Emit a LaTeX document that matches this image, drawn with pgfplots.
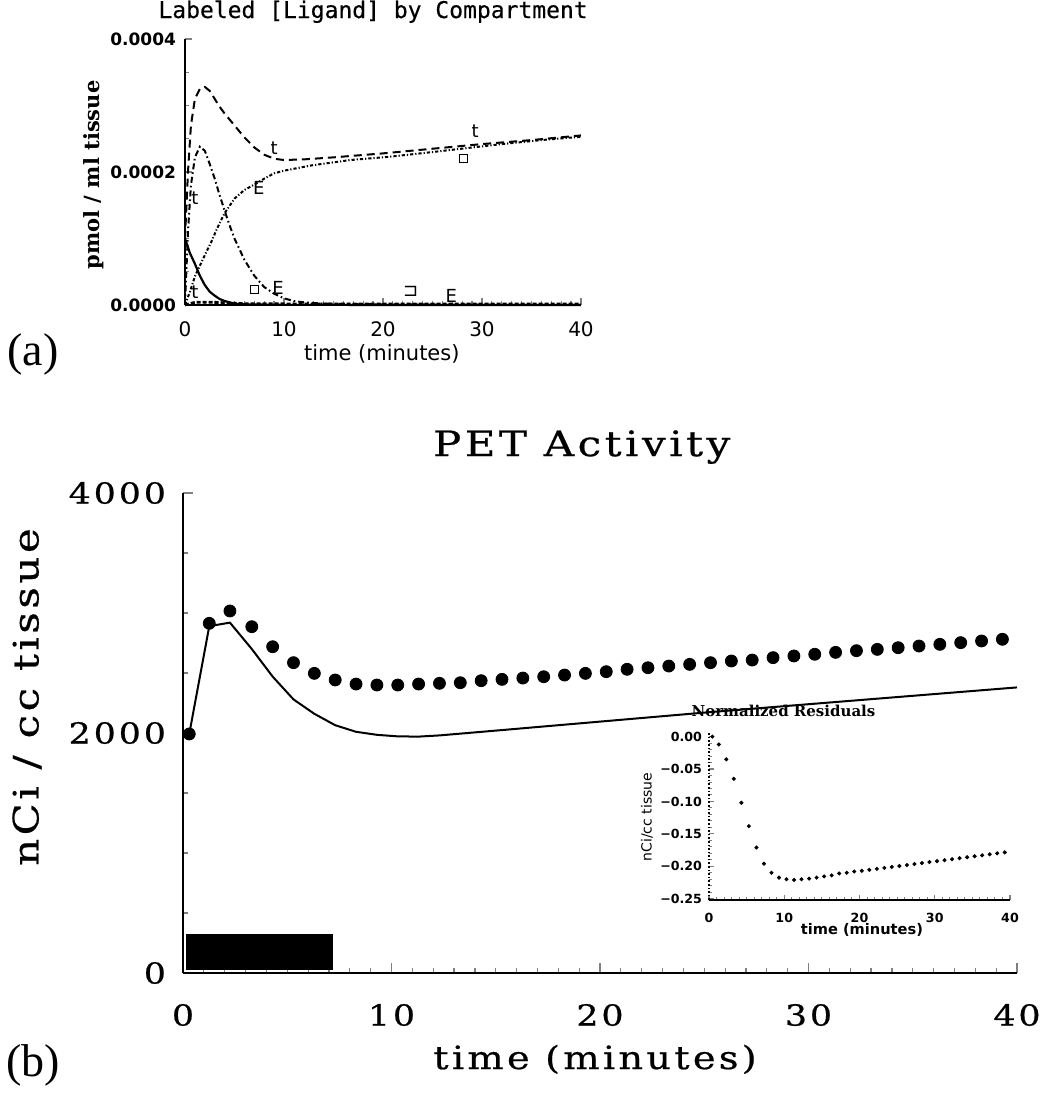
\documentclass[border=0pt]{standalone}
\usepackage{fontspec}
\usepackage{pgfplots}
\pgfplotsset{compat=1.18}
\setmainfont{DejaVu Serif}
\newfontfamily\hser[FakeStretch=1.2,LetterSpace=10,FakeBold=0.6]{DejaVu Serif}
\newfontfamily\hsans{DejaVu Sans}
\newfontfamily\hmono[FakeBold=0.4]{DejaVu Sans Mono}
\newfontfamily\tnr{Liberation Serif}
\newcommand\fs[1]{\fontsize{#1bp}{#1bp}\selectfont}

% PET activity: measured frames and model curve
\pgfplotstableread{
t    v
0.3  1992
1.26 2914
2.25 3017
3.3  2886
4.3  2719
5.3  2586
6.3  2497
7.3  2442
8.3  2408
9.3  2400
10.3 2400
11.3 2408
12.3 2414
13.3 2419
14.3 2436
15.3 2447
16.3 2458
17.3 2469
18.3 2483
19.3 2497
20.3 2511
21.3 2531
22.3 2544
23.3 2558
24.3 2572
25.3 2586
26.3 2600
27.3 2608
28.3 2628
29.3 2642
30.3 2656
31.3 2672
32.3 2686
33.3 2697
34.3 2711
35.3 2725
36.3 2739
37.3 2753
38.3 2767
39.3 2781
}\petdata

\pgfplotstableread{
t    v
0.3  1992
1.26 2890
2.25 2920
3.3  2700
4.3  2470
5.3  2280
6.3  2160
7.3  2065
8.3  2010
9.3  1985
10.3 1972
11.3 1970
12.3 1980
15   2020
20   2095
25   2170
30   2240
35   2310
40   2380
}\petmodel

\pgfplotstableread{
t    r
0.45 0.000
1.3  -0.012
2.3  -0.035
3.3  -0.065
4.3  -0.102
5.3  -0.138
6.3  -0.171
7.3  -0.196
8.3  -0.210
9.3  -0.2175
10.3 -0.220
11.3 -0.221
12.3 -0.220
13.3 -0.219
14.3 -0.2175
15.3 -0.2155
16.3 -0.214
17.3 -0.211
18.3 -0.210
19.3 -0.208
20.3 -0.207
21.3 -0.2055
22.3 -0.204
23.3 -0.2025
24.3 -0.201
25.3 -0.1995
26.3 -0.198
27.3 -0.1965
28.3 -0.195
29.3 -0.1935
30.3 -0.192
31.3 -0.1905
32.3 -0.189
33.3 -0.1875
34.3 -0.186
35.3 -0.1845
36.3 -0.183
37.3 -0.1815
38.3 -0.180
39.3 -0.1785
}\resid

\begin{document}
\begin{tikzpicture}
\path[use as bounding box] (0,0) rectangle (520.5bp,-548bp);

% ---------------- (a) compartments ----------------
\begin{axis}[
  at={(92.5bp,-152.5bp)}, anchor=south west,
  scale only axis, width=198bp, height=133bp,
  xmin=0, xmax=40, ymin=0, ymax=0.0004,
  axis x line*=bottom, axis y line*=left,
  axis line style={-, line width=0.9bp},
  tick align=inside, major tick length=3.5bp, minor tick length=2bp,
  major tick style={line width=0.7bp}, minor tick style={line width=0.6bp},
  scaled y ticks=false,
  xtick={0,10,20,30,40}, xticklabels={0,10,20,30,40}, minor x tick num=9,
  ytick={0,0.0002,0.0004}, yticklabels={0.0000,0.0002,0.0004}, minor y tick num=3,
  xticklabel style={font=\hsans\fs{10}, yshift=-5bp},
  yticklabel style={font=\hsans\bfseries\fs{8.5}, xshift=-1bp},
  title={Labeled [Ligand] by Compartment},
  title style={font=\hmono\fs{11.5}, at={(axis description cs:0.475,1.034)}, anchor=base},
  xlabel={time (minutes)},
  xlabel style={font=\hsans\fs{10.5}, at={(axis description cs:0.497,-0.21)}, anchor=base},
  ylabel={pmol / ml tissue},
  ylabel style={font=\bfseries\fs{10.5}, at={(axis description cs:-0.23,0.489)}, anchor=center},
  clip=false,
]
% total
\addplot[line width=1bp, dash pattern=on 4bp off 2.5bp] coordinates {
 (0,0.0001) (0.3,0.0002) (0.6,0.00027) (1,0.00031) (1.5,0.000325) (2,0.000328)
 (2.5,0.000322) (3,0.00031) (3.5,0.000298) (4,0.000288) (5,0.00027) (6,0.000252)
 (7,0.000237) (8,0.000226) (9,0.00022) (10,0.000218) (12,0.000219) (15,0.000222)
 (20,0.000228) (25,0.000235) (30,0.000242) (35,0.000248) (40,0.000255)};
% free
\addplot[line width=1bp, dash pattern=on 3bp off 1.5bp on 0.8bp off 1.5bp] coordinates {
 (0,0) (0.3,0.00011) (0.6,0.00018) (1,0.000222) (1.5,0.000238) (2,0.000232)
 (2.5,0.000212) (3,0.00019) (3.5,0.000165) (4,0.000142) (4.5,0.00012) (5,0.0001)
 (6,0.000068) (7,0.000044) (8,0.000027) (9,0.000017) (10,0.00001) (11,0.000006)
 (12,0.000004) (14,0.000002) (20,0.000001) (40,0)};
% bound
\addplot[line width=1bp, dash pattern=on 1.6bp off 1bp on 0.6bp off 1bp] coordinates {
 (0,0) (0.5,0.00002) (1,0.000043) (2,0.000075) (2.6,0.000093) (3.3,0.000117)
 (4,0.000138) (5,0.00016) (6,0.000173) (7,0.000181) (8,0.00019) (9,0.000198)
 (10,0.000202) (12.8,0.00021) (16.7,0.000218) (20.7,0.000223) (25,0.00023)
 (28.5,0.000236) (32,0.000242) (36,0.000248) (40,0.000253)};
% vascular
\addplot[line width=1.1bp] coordinates {
 (0,0.0001) (0.5,0.000078) (1,0.000062) (1.5,0.000044) (2,0.00003) (2.5,0.00002)
 (3,0.000014) (3.5,0.000009) (4,0.000006) (5,0.000002) (6,0.000001) (10,0.0000002) (40,0)};
% nonspecific
\addplot[line width=1.4bp, dash pattern=on 2bp off 1bp] coordinates {
 (0,0) (1,0.000004) (3,0.000004) (6,0.000002) (12,0.0000015) (40,0.0000015)};
% curve tags
\addplot[only marks, mark=none, nodes near coords, point meta=explicit symbolic,
  every node near coord/.style={font=\hsans\fs{9}, anchor=center, inner sep=0pt}] coordinates {
 (1.0,0.00016)[t] (9.0,0.000236)[t] (29.3,0.000262)[t] (1.0,0.00002)[t]
 (7.45,0.000176)[E] (9.4,0.000026)[E] (26.9,0.000014)[E] (22.8,0.000021)[⊐]};
\addplot[only marks, mark=square, mark size=2bp, mark options={line width=0.6bp}] coordinates {
 (7.06,0.000023) (28.1,0.00022)};
\end{axis}

% ---------------- (b) PET activity ----------------
\begin{axis}[
  at={(91.5bp,-486.5bp)}, anchor=south west,
  scale only axis, width=417bp, height=240bp,
  xmin=0, xmax=40, ymin=0, ymax=4000,
  axis x line*=bottom, axis y line*=left,
  axis line style={-, line width=1bp},
  tick align=inside, major tick length=5bp, minor tick length=2.5bp,
  major tick style={line width=0.8bp}, minor tick style={line width=0.6bp},
  xtick={0,10,20,30,40}, xticklabels={0,10,20,30,40}, minor x tick num=9,
  ytick={0,2000,4000}, yticklabels={0,2000,4000},
  minor ytick={500,1000,1500,2500,3000,3500},
  tick label style={font=\hser\fs{14.5}},
  xticklabel style={yshift=-12bp},
  yticklabel style={xshift=-5bp},
  title={PET Activity},
  title style={font=\hser\fs{17.5}, at={(axis description cs:0.478,1.052)}, anchor=base},
  xlabel={time (minutes)},
  xlabel style={font=\hser\fs{16}, at={(axis description cs:0.494,-0.2)}, anchor=base},
  ylabel={nCi / cc tissue},
  ylabel style={font=\hser\fs{17.5}, at={(axis description cs:-0.187,0.575)}, anchor=center},
  clip=false,
]
% injection interval
\addplot[fill=black, draw=black] coordinates {(0.15,30) (7.15,30) (7.15,320) (0.15,320)} -- cycle;
\addplot[line width=1bp] table[x=t, y=v] {\petmodel};
\addplot[only marks, mark=*, mark size=3bp] table[x=t, y=v] {\petdata};
\end{axis}

% ---------------- inset: residuals ----------------
\begin{axis}[
  at={(354.5bp,-450bp)}, anchor=south west,
  scale only axis, width=150.5bp, height=83.3bp,
  xmin=0, xmax=40, ymin=-0.252, ymax=0.005,
  axis x line*=bottom, axis y line*=left,
  x axis line style={-, line width=0.8bp},
  y axis line style={-, densely dotted, line width=0.8bp},
  tick align=inside, major tick length=2.5bp, minor tick length=1.3bp,
  major tick style={line width=0.6bp}, minor tick style={line width=0.5bp},
  xtick={0,10,20,30,40}, xticklabels={0,10,20,30,40}, minor x tick num=9,
  ytick={-0.25,-0.2,-0.15,-0.1,-0.05,0},
  yticklabels={−0.25,−0.20,−0.15,−0.10,−0.05,0.00},
  minor y tick num=4,
  tick label style={font=\hsans\bfseries\fs{6.3}},
  xticklabel style={yshift=-3bp},
  title={Normalized Residuals},
  title style={font=\bfseries\fs{7.5}, at={(axis description cs:0.2475,1.03)}, anchor=base},
  xlabel={time (minutes)},
  xlabel style={font=\hsans\bfseries\fs{7.3}, at={(axis description cs:0.508,-0.21)}, anchor=base},
  ylabel={nCi/cc tissue},
  ylabel style={font=\hsans\fs{7}, at={(axis description cs:-0.206,0.498)}, anchor=center},
  clip=false,
]
\addplot[only marks, mark=*, mark size=0.8bp] table[x=t, y=r] {\resid};
\end{axis}

\node[font=\tnr\fs{23}] at (16.5bp,-177bp) {(a)};
\node[font=\tnr\fs{23}] at (16.5bp,-532.5bp) {(b)};
\end{tikzpicture}
\end{document}
